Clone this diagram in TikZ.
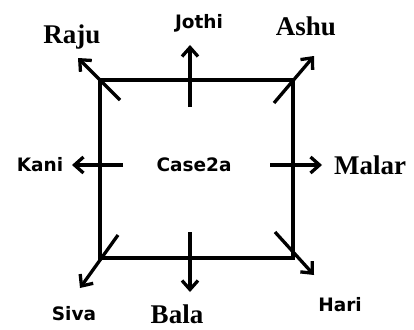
\documentclass[tikz,border=0pt]{standalone}
\usepackage{fontspec}
\setmainfont{Liberation Serif}
\newfontfamily\lblsans{DejaVu Sans}
\usetikzlibrary{arrows.meta}
\begin{document}
\begin{tikzpicture}[x=1pt,y=-1pt,
  serlbl/.style={font=\fontsize{27}{30}\selectfont\bfseries, inner sep=0pt},
  sanlbl/.style={font=\lblsans\fontsize{18.5}{21}\selectfont\bfseries, inner sep=0pt},
  boxline/.style={line width=3.3pt, line cap=rect},
  arr/.style={line width=3.3pt, -{Straight Barb[length=9pt,width=16pt,line width=3.3pt]}}]
\useasboundingbox (0,0) rectangle (414,329);
\fill[white] (0,0) rectangle (414,329);
% square
\coordinate (tl) at (100,80);
\coordinate (br) at (293,258);
\draw[boxline] (tl) rectangle (br);
% labels
\node[serlbl] (raju) at (72,37) {Raju};
\node[sanlbl] (jothi) at (199,23) {Jothi};
\node[serlbl] (ashu) at (306,26) {Ashu};
\node[sanlbl] (kani) at (40,165) {Kani};
\node[sanlbl] (case) at (194,165) {Case2a};
\node[serlbl] (malar) at (370,165) {Malar};
\node[sanlbl] (siva) at (74,314) {Siva};
\node[serlbl] (bala) at (177,314) {Bala};
\node[sanlbl] (hari) at (340,305) {Hari};
% arrow coordinates
\coordinate (rajuS) at (120,100); \coordinate (rajuT) at (78,58);
\coordinate (jothiS) at (190,107); \coordinate (jothiT) at (190,45);
\coordinate (ashuS) at (274,103); \coordinate (ashuT) at (314,56);
\coordinate (kaniS) at (123,165); \coordinate (kaniT) at (72,165);
\coordinate (malarS) at (270,165); \coordinate (malarT) at (322,165);
\coordinate (sivaS) at (118,235); \coordinate (sivaT) at (80,288);
\coordinate (balaS) at (190,232); \coordinate (balaT) at (190,292);
\coordinate (hariS) at (275,232); \coordinate (hariT) at (314,275);
\draw[arr] (rajuS) -- (rajuT);
\draw[arr] (jothiS) -- (jothiT);
\draw[arr] (ashuS) -- (ashuT);
\draw[arr] (kaniS) -- (kaniT);
\draw[arr] (malarS) -- (malarT);
\draw[arr] (sivaS) -- (sivaT);
\draw[arr] (balaS) -- (balaT);
\draw[arr] (hariS) -- (hariT);
\end{tikzpicture}
\end{document}
